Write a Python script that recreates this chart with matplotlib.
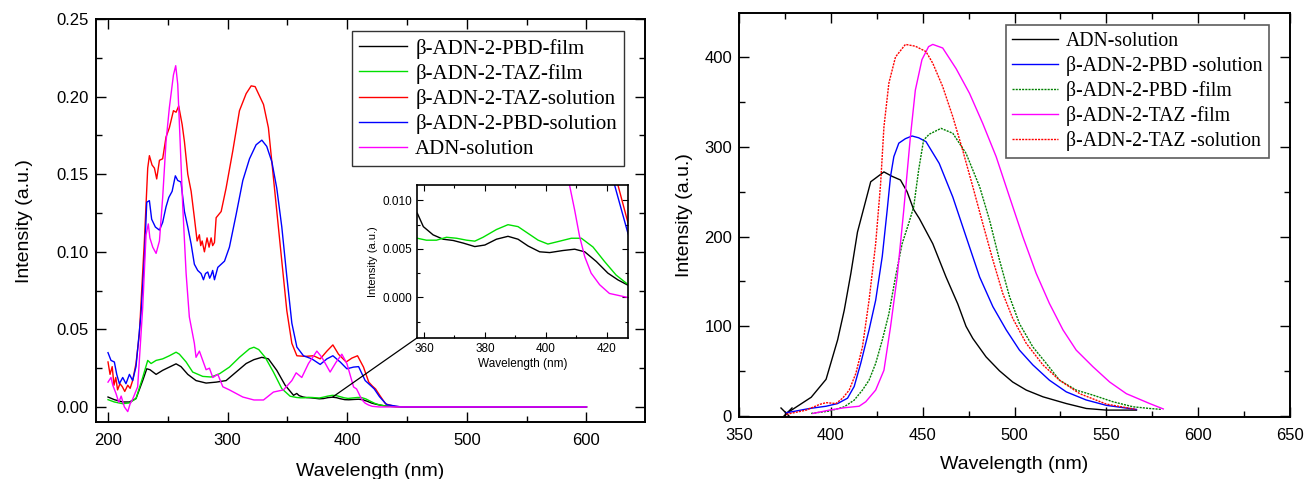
import numpy as np
import matplotlib
matplotlib.use('Agg')
import matplotlib.pyplot as plt
from matplotlib.patches import ConnectionPatch
from matplotlib.ticker import MultipleLocator

# ---------------- absorption (left) ----------------
pbd_film_x = [200, 205.3, 212.3, 217.9, 223.4, 229, 232.4, 235.1, 240.2, 245.7, 251.3, 256.9, 261, 266.7,
              273.6, 282, 290.4, 298.7, 307.1, 315.5, 322, 328.6, 334.1, 341.1, 348.1, 355.1,
              357.8, 359.8, 363, 366.3, 369.6, 372.9, 376.7, 380, 383.8, 387.6, 390.9, 394.2, 398,
              401.3, 405.6, 409.5, 412.8, 416.6, 420.4, 423.7, 426.7, 432, 440, 450, 600]
pbd_film_y = [0.0064, 0.0047, 0.0032, 0.0032, 0.0054, 0.017, 0.0246, 0.024, 0.021, 0.0236, 0.0257, 0.0278, 0.026, 0.021,
              0.017, 0.0154, 0.016, 0.017, 0.0225, 0.028, 0.0305, 0.032, 0.031, 0.0236, 0.014, 0.0075,
              0.0087, 0.0073, 0.00645, 0.0060, 0.00587, 0.0056, 0.00524, 0.0054, 0.0060, 0.0063, 0.0060, 0.0053, 0.0047,
              0.00462, 0.00483, 0.00497, 0.0047, 0.0037, 0.0025, 0.0018, 0.0013, 0.0006, 0.0002, 0.0, 0.0]

taz_film_x = [200, 205.3, 212.3, 217.9, 223.4, 229, 233.2, 236, 240.2, 245.7, 251.3, 256.9, 259.7, 265.3,
              270.8, 279.2, 286.2, 293.2, 301.5, 309.9, 318.3, 322, 326, 331.4, 338.3, 345.3, 352.3,
              357.8, 360.8, 364.1, 367.4, 370.7, 374, 376.7, 379.4, 383.8, 387.6, 390.9, 394.2, 397.5,
              400.7, 404.6, 408.4, 411.7, 415.5, 419.3, 423.1, 426.7, 432, 440, 450, 600]
taz_film_y = [0.0047, 0.0032, 0.0021, 0.0026, 0.0054, 0.019, 0.030, 0.028, 0.030, 0.031, 0.033, 0.0353, 0.034, 0.029,
              0.0225, 0.0197, 0.0193, 0.0214, 0.0257, 0.032, 0.0375, 0.0385, 0.037, 0.032, 0.0225, 0.0118, 0.0069,
              0.0061, 0.0059, 0.0059, 0.0062, 0.0061, 0.0059, 0.0058, 0.0062, 0.0070, 0.0075, 0.0073, 0.0066, 0.0059,
              0.0055, 0.0058, 0.0061, 0.0061, 0.0052, 0.0037, 0.0023, 0.0014, 0.0006, 0.0002, 0.0, 0.0]

taz_sol_x = [200, 201.7, 203.5, 205, 206.5, 208, 210, 212, 214, 216.5, 218.5, 220.6, 223.4, 226.2, 230.4, 233.2,
             234.6, 236.8, 238.8, 240.7, 243, 245.7, 248.5, 251.3, 254.7, 256.9, 259.1, 262, 263.9, 266.7,
             269.5, 272.2, 274.5, 276.4, 277.5, 278.7, 280.6, 282.8, 284.5, 286.2, 287.5, 289, 290.4, 294.6,
             298.7, 304.3, 309.9, 315.5, 319.7, 323, 330, 334.1, 339.7, 345.3, 349.5, 353.7, 357.9, 364.8,
             371.8, 377.4, 383, 388, 392.7, 399.1, 403.9, 408.6, 413.6, 418, 421, 423.7, 427, 432, 440, 450, 600]
taz_sol_y = [0.029, 0.021, 0.026, 0.014, 0.019, 0.011, 0.015, 0.013, 0.010, 0.014, 0.012, 0.017, 0.028, 0.047, 0.107, 0.154,
             0.162, 0.156, 0.154, 0.147, 0.159, 0.160, 0.174, 0.180, 0.191, 0.190, 0.194, 0.182, 0.171, 0.150,
             0.139, 0.122, 0.107, 0.111, 0.104, 0.107, 0.100, 0.109, 0.103, 0.109, 0.104, 0.106, 0.122, 0.126,
             0.141, 0.165, 0.191, 0.202, 0.207, 0.2065, 0.195, 0.180, 0.137, 0.094, 0.062, 0.041, 0.033, 0.0326,
             0.033, 0.031, 0.036, 0.040, 0.034, 0.029, 0.0315, 0.033, 0.0257, 0.016, 0.0135, 0.0116, 0.0077, 0.002, 0.0003, 0.0, 0.0]

pbd_sol_x = [200, 202.5, 205.3, 207.3, 209.5, 212.3, 215, 217.9, 220.6, 223.4, 227.6, 230.4, 232.4, 234.6,
             236.5, 239.6, 243, 245.7, 248.5, 250.8, 253.6, 256.3, 258.3, 261, 263.9, 266.7, 269.5, 272.2,
             275, 277.8, 279.8, 281.5, 283.4, 285, 286.2, 287.5, 289, 291.8, 294.6, 297.4, 301.5, 307.1,
             312.7, 318.3, 323.8, 328.6, 332.7, 337, 341.1, 345.3, 349.5, 353.7, 357.9, 363.4, 370.4, 377.4,
             383, 388, 394.1, 399.7, 405.3, 409.5, 415, 420, 422.6, 427, 433, 445, 600]
pbd_sol_y = [0.035, 0.030, 0.029, 0.021, 0.015, 0.019, 0.015, 0.021, 0.017, 0.026, 0.060, 0.096, 0.132, 0.133,
             0.121, 0.116, 0.114, 0.119, 0.129, 0.135, 0.139, 0.149, 0.146, 0.145, 0.126, 0.116, 0.105, 0.092,
             0.088, 0.086, 0.082, 0.086, 0.087, 0.083, 0.085, 0.088, 0.082, 0.090, 0.092, 0.094, 0.103, 0.124,
             0.146, 0.160, 0.169, 0.172, 0.168, 0.158, 0.141, 0.116, 0.084, 0.054, 0.0386, 0.033, 0.031, 0.0274,
             0.031, 0.033, 0.029, 0.0246, 0.0257, 0.026, 0.017, 0.0135, 0.0116, 0.0066, 0.0015, 0.0, 0.0]

adn_sol_x = [200, 202.5, 204, 206.7, 209, 211, 213.7, 216.5, 218.5, 220.6, 224.8, 229, 231.8, 233.7, 235,
             237.4, 240.2, 243, 245.7, 248.5, 251.3, 254.7, 256.6, 258.3, 260.3, 262.5, 265.3, 268, 272.2,
             273.6, 276.4, 279.2, 282, 284.8, 287.6, 291.8, 296, 301.5, 312.7, 322, 330, 338.3, 346.7,
             353.7, 357.3, 362, 367.6, 374.6, 378.8, 385.7, 390.8, 395.5, 399.7, 405.3, 407.8, 409.5, 411.1,
             412.8, 414.9, 417.7, 420.9, 426.7, 600]
adn_sol_y = [0.016, 0.019, 0.014, 0.0086, 0.003, 0.007, 0.000, -0.003, 0.002, 0.005, 0.013, 0.064, 0.111, 0.118, 0.109,
             0.103, 0.099, 0.107, 0.135, 0.171, 0.193, 0.214, 0.220, 0.208, 0.171, 0.129, 0.086, 0.058, 0.041,
             0.032, 0.036, 0.030, 0.024, 0.025, 0.019, 0.021, 0.013, 0.011, 0.0064, 0.0045, 0.0045, 0.0096, 0.011,
             0.017, 0.022, 0.019, 0.028, 0.036, 0.032, 0.0225, 0.029, 0.034, 0.028, 0.0129, 0.0116, 0.0090, 0.0063,
             0.0042, 0.0025, 0.0013, 0.0004, 0.0, 0.0]

# ---------------- photoluminescence (right) ----------------
pl_adn_x = [375.8, 389.3, 397.4, 403.7, 407.3, 410.9, 414.5, 418.1, 421.7, 428.9, 433.4, 437.9, 441.5, 445.1,
            448.2, 455.5, 462.7, 469.1, 473.6, 477.3, 484.5, 491.8, 499, 506.4, 515.5, 528.2, 539.1, 550, 566.4]
pl_adn_y = [3, 21, 41, 85, 118, 159, 205, 233, 261, 272, 267, 263, 250, 230,
            220, 192, 155, 125, 100, 86.5, 66, 50.5, 38, 29, 21.5, 14, 8.5, 6.7, 6.7]

pl_pbd_sol_x = [375.8, 388.4, 397.4, 403.7, 409.1, 412.7, 416.3, 420.8, 424.4, 428, 430.7, 432.5, 434.3, 437,
                440.6, 444.2, 447.8, 451.8, 459, 466.4, 473.6, 481, 488.2, 495.5, 502.7, 510, 519, 528.2,
                539, 550, 566.4]
pl_pbd_sol_y = [3.7, 8.5, 11, 14, 20, 33, 59, 96, 129, 178, 230, 267, 289, 304,
                309, 312, 310, 305.7, 281.5, 244, 200, 155, 122, 96, 73.5, 57, 40, 27,
                18, 12, 7.4]

pl_pbd_film_x = [389.3, 399.2, 407.3, 412.7, 417.2, 420.8, 424.4, 428, 431.6, 435.2, 438.8, 442.4, 445.1,
                 447.8, 450.5, 453.6, 460, 466.4, 473.6, 481, 486.4, 491.8, 497.3, 502.7, 510, 517.3,
                 524.5, 533.6, 542.7, 553.6, 564.5, 573.6, 580]
pl_pbd_film_y = [3, 5.6, 10.4, 17.8, 29, 40, 58.7, 84.7, 114, 155, 192, 214.7, 233,
                 274, 307.5, 314, 320.5, 315, 292.7, 255.5, 218.4, 174, 133, 103, 77, 58.7,
                 40, 29, 23.4, 16, 10.4, 8.5, 7.5]

pl_taz_film_x = [390.2, 399.2, 407.3, 415.4, 419, 424.4, 428.9, 432.5, 436.1, 439.7, 443.3, 446, 449.6,
                 453.2, 455.5, 460.9, 468.2, 475.5, 482.7, 490, 497.3, 504.5, 511.8, 519, 526.4, 533.6,
                 542.7, 551.8, 560.9, 573.6, 581]
pl_taz_film_y = [3, 6.7, 9.3, 11, 16, 29, 51, 99.5, 155, 229.5, 311, 363, 397,
                 411.5, 414, 410, 387, 359.5, 326, 289, 244, 200, 159, 125.5, 96, 73.5,
                 55, 38, 25, 14, 8]

pl_taz_sol_x = [375.8, 386.6, 393.8, 397.4, 402.8, 406.4, 410, 413.6, 417.2, 420.8, 424.4, 427.1, 428.9,
                431.6, 435.2, 440.6, 446, 451.8, 455.5, 460.9, 466.4, 471.8, 477.3, 482.7, 488.2, 493.6,
                499, 506.4, 515.5, 524.5, 535.5, 550, 566.4]
pl_taz_sol_y = [2, 6.7, 13, 15, 14, 20, 29, 47.5, 77, 129, 192, 259, 322,
                371, 400, 414, 412, 406, 393, 367, 333.5, 296, 255.5, 214.7, 174, 136.7,
                109, 81, 57, 40, 25, 13.4, 7.4]

plt.rcParams['font.family'] = ['Liberation Sans', 'DejaVu Sans']

fig = plt.figure(figsize=(13.05, 4.79), dpi=100)

def style_axes(ax, lw=1.4):
    for s in ax.spines.values():
        s.set_linewidth(lw)
    ax.tick_params(which='both', direction='in', top=True, right=True, width=1.0)
    ax.tick_params(which='major', length=7)
    ax.tick_params(which='minor', length=4)
    ax.tick_params(axis='x', which='major', pad=8)
    ax.tick_params(axis='y', which='major', pad=5)

# left panel
ax1 = fig.add_axes([0.0736, 0.119, 0.4207, 0.841])
lw = 1.0
ax1.plot(pbd_film_x, pbd_film_y, color='black', lw=lw, label='β-ADN-2-PBD-film')
ax1.plot(taz_film_x, taz_film_y, color='#00e000', lw=lw, label='β-ADN-2-TAZ-film')
ax1.plot(taz_sol_x, taz_sol_y, color='red', lw=lw, label='β-ADN-2-TAZ-solution')
ax1.plot(pbd_sol_x, pbd_sol_y, color='blue', lw=lw, label='β-ADN-2-PBD-solution')
ax1.plot(adn_sol_x, adn_sol_y, color='magenta', lw=lw, label='ADN-solution')
ax1.set_xlim(190, 649)
ax1.set_ylim(-0.0097, 0.25)
ax1.xaxis.set_minor_locator(MultipleLocator(50))
ax1.yaxis.set_minor_locator(MultipleLocator(0.025))
ax1.set_yticks([0, 0.05, 0.10, 0.15, 0.20, 0.25])
ax1.set_yticklabels(['0.00', '0.05', '0.10', '0.15', '0.20', '0.25'])
ax1.set_xticks([200, 300, 400, 500, 600])
style_axes(ax1)
ax1.tick_params(labelsize=12)
ax1.set_xlabel('Wavelength (nm)', fontsize=14, labelpad=11)
ax1.set_ylabel('Intensity (a.u.)', fontsize=14, labelpad=17)
leg1 = ax1.legend(loc='upper right', bbox_to_anchor=(0.962, 0.970), borderaxespad=0,
                  prop={'family': 'Liberation Serif', 'size': 15}, frameon=True, fancybox=False,
                  edgecolor='black', handlelength=2.3, labelspacing=0.25, borderpad=0.35,
                  handletextpad=0.4)
leg1.get_frame().set_linewidth(1.0)

# inset
axin = fig.add_axes([0.3195, 0.2944, 0.1617, 0.3194])
axin.plot(pbd_film_x, pbd_film_y, color='black', lw=1.0)
axin.plot(taz_film_x, taz_film_y, color='#00e000', lw=1.0)
axin.plot(taz_sol_x, taz_sol_y, color='red', lw=1.0)
axin.plot(pbd_sol_x, pbd_sol_y, color='blue', lw=1.0)
axin.plot(adn_sol_x, adn_sol_y, color='magenta', lw=1.0)
axin.set_xlim(357.7, 427)
axin.set_ylim(-0.0042, 0.0116)
axin.set_xticks([360, 380, 400, 420])
axin.xaxis.set_minor_locator(MultipleLocator(10))
axin.set_yticks([0.0, 0.005, 0.010])
axin.set_yticklabels(['0.000', '0.005', '0.010'])
axin.yaxis.set_minor_locator(MultipleLocator(0.0025))
for s in axin.spines.values():
    s.set_linewidth(1.2)
axin.tick_params(which='both', direction='in', top=True, right=True, labelsize=8.5, width=0.8)
axin.tick_params(which='major', length=4)
axin.tick_params(which='minor', length=2.5)
axin.set_xlabel('Wavelength (nm)', fontsize=8.5, labelpad=2)
axin.set_ylabel('Intensity (a.u.)', fontsize=8, labelpad=3)

con = ConnectionPatch(xyA=(388, 0.0065), coordsA='data', axesA=ax1,
                      xyB=(0, 0), coordsB='axes fraction', axesB=axin,
                      color='black', lw=0.9)
fig.add_artist(con)

# right panel
ax2 = fig.add_axes([0.5663, 0.1294, 0.4222, 0.8435])
ax2.plot(pl_adn_x, pl_adn_y, color='black', lw=1.0, label='ADN-solution')
ax2.plot(pl_adn_x[:1], pl_adn_y[:1], color='black', marker='x', ms=9, mew=1.0, ls='none')
ax2.plot(pl_pbd_sol_x, pl_pbd_sol_y, color='blue', lw=1.0, label='β-ADN-2-PBD -solution')
ax2.plot(pl_pbd_film_x, pl_pbd_film_y, color='green', lw=1.0, ls=(0, (1.5, 0.8)), label='β-ADN-2-PBD -film')
ax2.plot(pl_taz_film_x, pl_taz_film_y, color='magenta', lw=1.0, label='β-ADN-2-TAZ -film')
ax2.plot(pl_taz_sol_x, pl_taz_sol_y, color='red', lw=1.0, ls=(0, (1.5, 0.8)), label='β-ADN-2-TAZ -solution')
ax2.set_xlim(350, 650)
ax2.set_ylim(-1, 449)
ax2.xaxis.set_major_locator(MultipleLocator(50))
ax2.xaxis.set_minor_locator(MultipleLocator(25))
ax2.yaxis.set_major_locator(MultipleLocator(100))
ax2.yaxis.set_minor_locator(MultipleLocator(50))
style_axes(ax2)
ax2.tick_params(labelsize=12)
ax2.set_xlabel('Wavelength (nm)', fontsize=14, labelpad=9)
ax2.set_ylabel('Intensity (a.u.)', fontsize=14, labelpad=8)
leg2 = ax2.legend(loc='upper right', bbox_to_anchor=(0.962, 0.970), borderaxespad=0,
                  prop={'family': 'Liberation Serif', 'size': 14.2}, frameon=True, fancybox=False,
                  edgecolor='#333333', handlelength=2.3, labelspacing=0.25, borderpad=0.35,
                  handletextpad=0.4)
leg2.get_frame().set_linewidth(1.2)

fig.savefig('out.png', dpi=100)
